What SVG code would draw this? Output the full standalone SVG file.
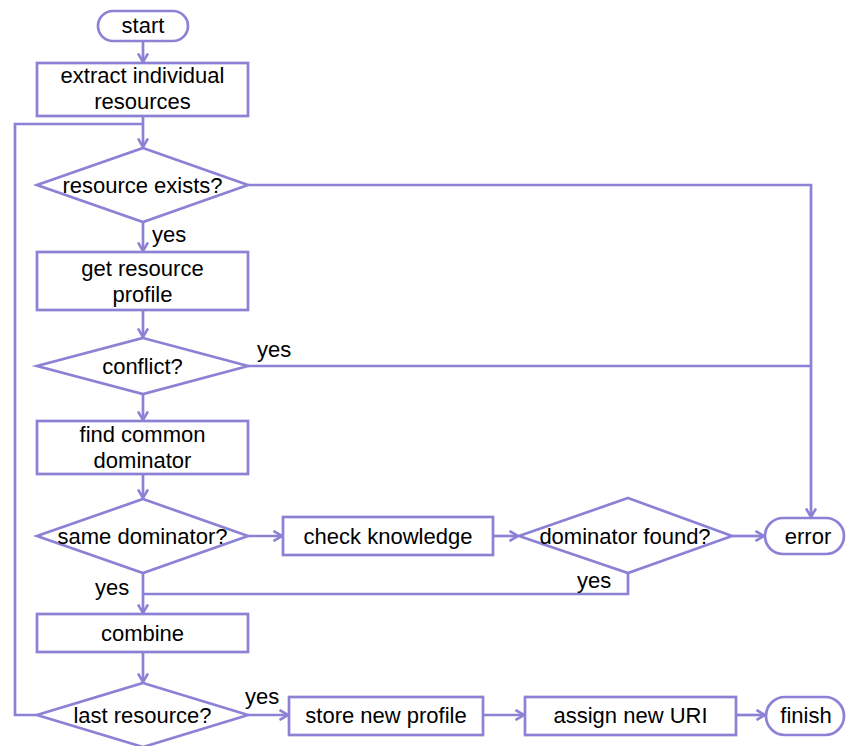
<svg xmlns="http://www.w3.org/2000/svg" width="846" height="746" viewBox="0 0 846 746">
  <defs>
    <marker id="arrow" viewBox="0 0 10 12" refX="9.5" refY="6" markerWidth="10" markerHeight="12" markerUnits="userSpaceOnUse" orient="auto">
      <path d="M1,1 L9.5,6 L1,11" fill="none" stroke="#8B82D6" stroke-width="2.6" stroke-linejoin="miter"/>
    </marker>
    <style>
      .shape { fill: #ffffff; stroke: #8B82D6; stroke-width: 2.7; }
      .edge { fill: none; stroke: #8B82D6; stroke-width: 2.7; }
      .arr { marker-end: url(#arrow); }
      text { font-family: "Liberation Sans", Arial, sans-serif; font-size: 22px; fill: #000000; }
      .c { text-anchor: middle; }
    </style>
  </defs>
  <rect width="846" height="746" fill="#ffffff"/>

  <!-- connectors -->
  <g id="connectors">
    <path class="edge arr" d="M143,41 V62"/>
    <path class="edge arr" d="M143,116 V147"/>
    <path class="edge" d="M37,715 H15 V124 H143"/>
    <path class="edge arr" d="M248,185 H811 V517"/>
    <path class="edge arr" d="M143,222 V251"/>
    <path class="edge arr" d="M143,310 V337"/>
    <path class="edge" d="M248,366 H811"/>
    <path class="edge arr" d="M143,394 V420"/>
    <path class="edge arr" d="M143,474 V498"/>
    <path class="edge arr" d="M248,536 H282"/>
    <path class="edge arr" d="M493,536 H518"/>
    <path class="edge arr" d="M732,536 H764"/>
    <path class="edge" d="M628,573 V594 H143"/>
    <path class="edge arr" d="M143,573 V613"/>
    <path class="edge arr" d="M143,652 V682"/>
    <path class="edge arr" d="M248,715 H288"/>
    <path class="edge arr" d="M483,715 H524"/>
    <path class="edge arr" d="M736,715 H765"/>
    <text x="152" y="242">yes</text>
    <text x="257" y="357">yes</text>
    <text x="95" y="595">yes</text>
    <text x="577" y="588">yes</text>
    <text x="245" y="704">yes</text>
  </g>

  <g id="start">
    <rect class="shape" x="98" y="11" width="90" height="30" rx="15" ry="15"/>
    <text class="c" x="143" y="33">start</text>
  </g>

  <g id="extract">
    <rect class="shape" x="37" y="63" width="211" height="53"/>
    <text class="c" x="142.5" y="83">extract individual</text>
    <text class="c" x="142.5" y="109">resources</text>
  </g>

  <g id="resource-exists">
    <polygon class="shape" points="143,148 248,185 143,222 37,185"/>
    <text class="c" x="142.5" y="193">resource exists?</text>
  </g>

  <g id="get-profile">
    <rect class="shape" x="37" y="252" width="211" height="58"/>
    <text class="c" x="142.5" y="276">get resource</text>
    <text class="c" x="142.5" y="302">profile</text>
  </g>

  <g id="conflict">
    <polygon class="shape" points="143,338 248,366 143,394 37,366"/>
    <text class="c" x="142.5" y="374">conflict?</text>
  </g>

  <g id="find-dominator">
    <rect class="shape" x="37" y="421" width="211" height="53"/>
    <text class="c" x="142.5" y="442">find common</text>
    <text class="c" x="142.5" y="468">dominator</text>
  </g>

  <g id="same-dominator">
    <polygon class="shape" points="143,499 248,536 143,573 37,536"/>
    <text class="c" x="142.5" y="544">same dominator?</text>
  </g>

  <g id="check-knowledge">
    <rect class="shape" x="283" y="517" width="210" height="38"/>
    <text class="c" x="388" y="544">check knowledge</text>
  </g>

  <g id="dominator-found">
    <polygon class="shape" points="628,498 732,536 628,573 519,536"/>
    <text class="c" x="625" y="544">dominator found?</text>
  </g>

  <g id="error">
    <rect class="shape" x="765" y="518" width="79" height="36" rx="18" ry="18"/>
    <text class="c" x="808" y="544">error</text>
  </g>

  <g id="combine">
    <rect class="shape" x="37" y="614" width="211" height="38"/>
    <text class="c" x="142.5" y="641">combine</text>
  </g>

  <g id="last-resource">
    <polygon class="shape" points="143,683 248,715 143,747 37,715"/>
    <text class="c" x="142.5" y="723">last resource?</text>
  </g>

  <g id="store-profile">
    <rect class="shape" x="289" y="697" width="194" height="38"/>
    <text class="c" x="386" y="723">store new profile</text>
  </g>

  <g id="assign-uri">
    <rect class="shape" x="525" y="697" width="211" height="38"/>
    <text class="c" x="630.5" y="723">assign new URI</text>
  </g>

  <g id="finish">
    <rect class="shape" x="766" y="697" width="78" height="38" rx="19" ry="19"/>
    <text class="c" x="806" y="723">finish</text>
  </g>
</svg>
